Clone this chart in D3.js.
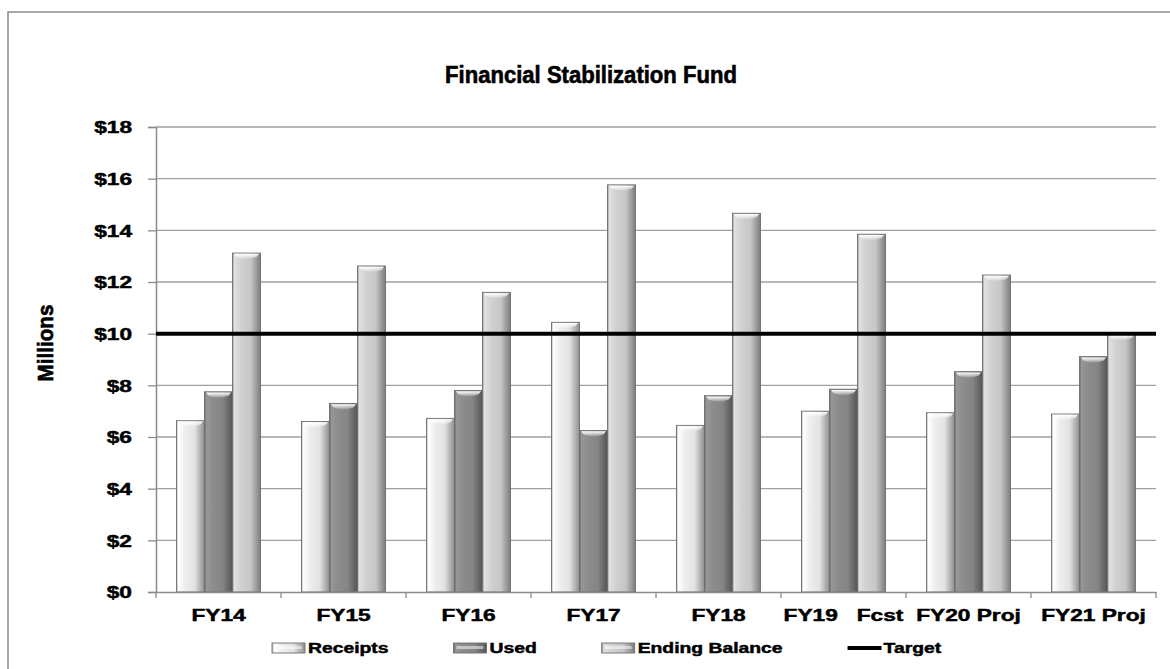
<!DOCTYPE html>
<html>
<head>
<meta charset="utf-8">
<script src="https://cdn.jsdelivr.net/npm/d3@7/dist/d3.min.js"></script>
<style>
    body { margin: 0; background: #fff; }
    svg text { font-family: "Liberation Sans", Arial, sans-serif; font-weight: bold; fill: #000; stroke: #000; stroke-width: 0.45px; }
</style>
</head>
<body>
<div class="svg-container"></div>
<script>
// chart values
const categories = ['FY14', 'FY15', 'FY16', 'FY17', 'FY18', 'FY19   Fcst', 'FY20 Proj', 'FY21 Proj'];
const receipts = [6.63, 6.6, 6.72, 10.44, 6.45, 7.0, 6.94, 6.89];
const used = [7.75, 7.3, 7.8, 6.25, 7.6, 7.85, 8.53, 9.11];
const endingBalance = [13.12, 12.62, 11.6, 15.76, 14.66, 13.85, 12.27, 9.98];
const target = 10;
const yTicks = [0, 2, 4, 6, 8, 10, 12, 14, 16, 18];
const seriesNames = ['Receipts', 'Used', 'Ending Balance'];
const seriesValues = [receipts, used, endingBalance];

var W = 1170, H = 669,
    margin = {top: 127, right: 14, bottom: 77, left: 156},
    width = W - margin.left - margin.right,
    height = H - margin.top - margin.bottom;

const baseColors = {'Receipts': '#e2e2e2', 'Used': '#858585', 'Ending Balance': '#c6c6c6'};
const sx = 1.42; // the reference type is drawn wide

var svg = d3.select('.svg-container')
    .append('svg')
    .attr('width', W)
    .attr('height', H);

// gradients for the cylinder look
var defs = svg.append('defs');
seriesNames.forEach(function (s, i) {
    var c = d3.color(baseColors[s]);
    var grad = defs.append('linearGradient')
        .attr('id', 'grad' + i)
        .attr('x1', 0).attr('x2', 1).attr('y1', 0).attr('y2', 0);
    [[0, c.darker(0.7)], [0.07, c.brighter(0.35)], [0.3, c.brighter(0.15)],
     [0.65, c], [0.86, c.darker(0.7)], [1, c.darker(1.3)]].forEach(function (st) {
        grad.append('stop').attr('offset', st[0]).attr('stop-color', st[1].formatHex());
    });
});
var bevel = defs.append('linearGradient')
    .attr('id', 'bevel').attr('x1', 0).attr('x2', 0).attr('y1', 0).attr('y2', 1);
bevel.append('stop').attr('offset', 0).attr('stop-color', '#fff').attr('stop-opacity', 1);
bevel.append('stop').attr('offset', 1).attr('stop-color', '#fff').attr('stop-opacity', 0.1);

// outer border
svg.append('rect')
    .attr('x', 8).attr('y', 12)
    .attr('width', 1300).attr('height', 800)
    .attr('fill', 'none')
    .attr('stroke', '#8c8c8c')
    .attr('stroke-width', 1.5);

// title
svg.append('text')
    .attr('x', 591).attr('y', 83)
    .attr('text-anchor', 'middle')
    .attr('transform', 'translate(591,83) scale(0.96,1) translate(-591,-83)')
    .style('font-size', '23px')
    .style('stroke-width', '0.6px')
    .text('Financial Stabilization Fund');

// scales
var x0 = d3.scaleBand().domain(categories).range([0, width]).padding(0);
var x1 = d3.scaleBand().domain(seriesNames).range([0, x0.bandwidth()]).paddingInner(0).paddingOuter(0.73);
var y = d3.scaleLinear().domain([0, 18]).range([height, 0]);

var g = svg.append('g')
    .attr('transform', 'translate(' + margin.left + ',' + margin.top + ')');

// gridlines
g.append('g')
    .selectAll('line')
    .data(yTicks.filter(function (d) { return d > 0; }))
    .enter().append('line')
    .attr('x1', 0).attr('x2', width)
    .attr('y1', function (d) { return y(d); })
    .attr('y2', function (d) { return y(d); })
    .attr('stroke', '#a0a0a0')
    .attr('stroke-width', 1.3);

// y axis
var yAxis = g.append('g')
    .attr('class', 'y-axis')
    .call(d3.axisLeft(y).tickValues(yTicks).tickSize(8).tickFormat(function (d) { return '$' + d; }));
yAxis.select('.domain').attr('stroke', '#8c8c8c').attr('stroke-width', 1.5);
yAxis.selectAll('.tick line').attr('stroke', '#8c8c8c').attr('stroke-width', 1.3);
yAxis.selectAll('.tick text')
    .attr('x', -24 / sx)
    .attr('dy', '0.36em')
    .attr('transform', 'scale(' + sx + ',1)')
    .style('font-size', '16px');

// bars
var groups = g.selectAll('.group')
    .data(categories).enter().append('g')
    .attr('class', 'group')
    .attr('transform', function (d) { return 'translate(' + x0(d) + ',0)'; });

seriesNames.forEach(function (s, si) {
    var vals = seriesValues[si];
    groups.append('rect')
        .attr('x', x1(s))
        .attr('y', function (d, i) { return y(vals[i]); })
        .attr('width', x1.bandwidth())
        .attr('height', function (d, i) { return y(0) - y(vals[i]); })
        .attr('fill', 'url(#grad' + si + ')')
        .attr('stroke', '#6e6e6e')
        .attr('stroke-width', 0.9);
    groups.append('path')
        .attr('d', function (d, i) {
            var bx = x1(s), by = y(vals[i]), bw = x1.bandwidth();
            return 'M' + (bx + 1.5) + ',' + (by + 0.8) + 'L' + (bx + bw - 1.5) + ',' + (by + 0.8) +
                'L' + (bx + bw - 4) + ',' + (by + 4) +
                'Q' + (bx + bw / 2) + ',' + (by + 8) + ' ' + (bx + 4) + ',' + (by + 4) + 'Z';
        })
        .attr('fill', 'url(#bevel)');
});

// x axis
var xAxis = g.append('g')
    .attr('class', 'x-axis')
    .attr('transform', 'translate(0,' + height + ')')
    .call(d3.axisBottom(x0).tickSize(0).tickSizeOuter(0));
xAxis.select('.domain').attr('stroke', '#8c8c8c').attr('stroke-width', 1.5);
xAxis.selectAll('.tick text')
    .attr('y', 18)
    .attr('transform', 'scale(' + sx + ',1)')
    .style('font-size', '16px')
    .style('white-space', 'pre');
xAxis.selectAll('.boundary')
    .data(d3.range(categories.length + 1))
    .enter().append('line')
    .attr('class', 'boundary')
    .attr('x1', function (d) { return d * x0.step(); })
    .attr('x2', function (d) { return d * x0.step(); })
    .attr('y1', 0).attr('y2', 6)
    .attr('stroke', '#8c8c8c')
    .attr('stroke-width', 1.3);

// target line
g.append('line')
    .attr('x1', 0).attr('x2', width)
    .attr('y1', y(target)).attr('y2', y(target))
    .attr('stroke', '#000')
    .attr('stroke-width', 4);

// y label
svg.append('text')
    .attr('transform', 'translate(53,343) rotate(-90) scale(1.29,1.42)')
    .attr('text-anchor', 'middle')
    .style('font-size', '16px')
    .text('Millions');

// legend
var legend = svg.append('g').attr('class', 'legend');
var lx = 272, ly = 648;
var legendItems = seriesNames.concat(['Target']);
legendItems.forEach(function (name, i) {
    var item = legend.append('g').attr('transform', 'translate(' + lx + ',' + ly + ')');
    if (name === 'Target') {
        item.append('line')
            .attr('x1', 0).attr('x2', 34)
            .attr('y1', 0).attr('y2', 0)
            .attr('stroke', '#000').attr('stroke-width', 4);
    } else {
        item.append('rect')
            .attr('x', 0).attr('y', -5)
            .attr('width', 33).attr('height', 10)
            .attr('fill', 'url(#grad' + i + ')')
            .attr('stroke', '#6e6e6e').attr('stroke-width', 0.9);
        item.append('rect')
            .attr('x', 3).attr('y', -2)
            .attr('width', 27).attr('height', 3)
            .attr('fill', '#fff').attr('opacity', 0.5);
    }
    var t = item.append('text')
        .attr('x', 36 / 1.38)
        .attr('y', 5)
        .attr('transform', 'scale(1.38,1)')
        .style('font-size', '14px')
        .text(name);
    var tw = t.node().getComputedTextLength() * 1.38;
    lx += 36 + tw + 65;
});
</script>
</body>
</html>
